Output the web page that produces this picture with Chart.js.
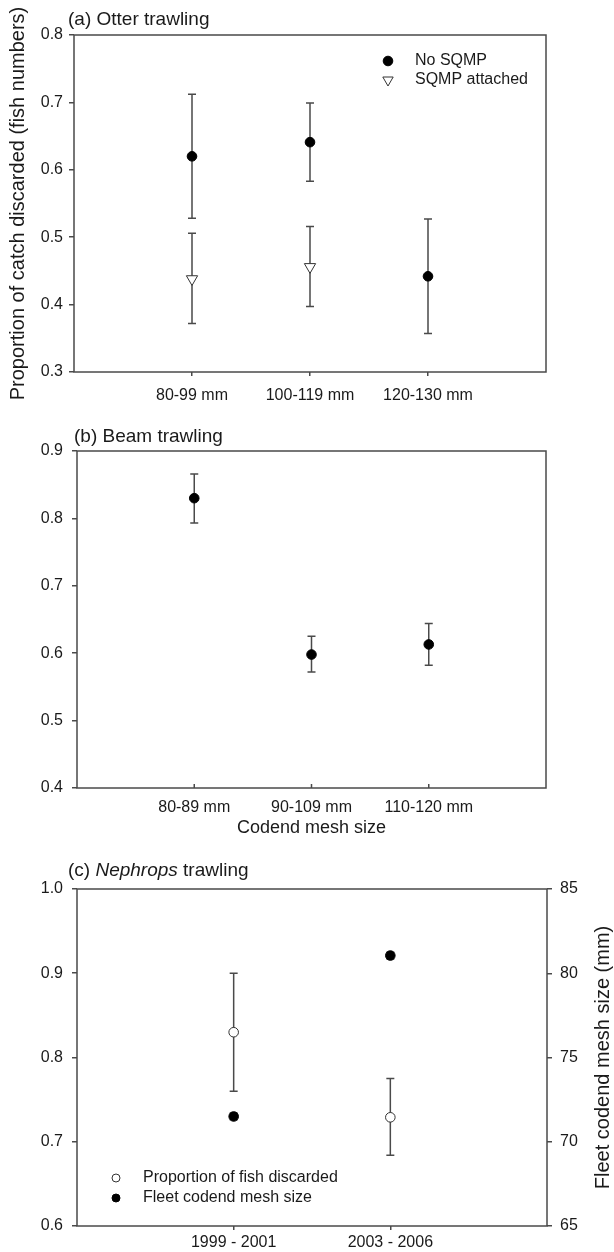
<!DOCTYPE html>
<html>
<head>
<meta charset="utf-8">
<script src="https://cdn.jsdelivr.net/npm/chart.js@4.4.0/dist/chart.umd.min.js"></script>
<style>
  html, body { margin: 0; padding: 0; background: #fff; }
  .panel { position: absolute; left: 0; width: 614px; }
  canvas { display: block; }
</style>
</head>
<body>
<div class="panel" style="top:0"><canvas id="otterChart" width="614" height="412"></canvas></div>
<div class="panel" style="top:420px"><canvas id="beamChart" width="614" height="420"></canvas></div>
<div class="panel" style="top:840px"><canvas id="nephropsChart" width="614" height="412"></canvas></div>
<script>
// (a) otter trawling
const otterLabels   = ["80-99 mm", "100-119 mm", "120-130 mm"];
const otterNoSqmp   = [0.620, 0.641, 0.442];
const otterNoSqmpLo = [0.528, 0.583, 0.357];
const otterNoSqmpHi = [0.712, 0.699, 0.527];
const otterSqmp     = [0.438, 0.456];
const otterSqmpLo   = [0.372, 0.397];
const otterSqmpHi   = [0.506, 0.516];

// (b) beam trawling
const beamLabels = ["80-89 mm", "90-109 mm", "110-120 mm"];
const beamMean   = [0.830, 0.598, 0.613];
const beamLo     = [0.793, 0.572, 0.582];
const beamHi     = [0.866, 0.625, 0.644];

// (c) Nephrops trawling
const nephropsLabels = ["1999 - 2001", "2003 - 2006"];
const discardMean = [0.830, 0.729];
const discardLo   = [0.760, 0.684];
const discardHi   = [0.900, 0.775];
const meshMean    = [71.5, 81.05];
const meshLo      = [71.3, 80.85];
const meshHi      = [71.7, 81.25];

const FONT = '"Liberation Sans", Arial, Helvetica, sans-serif';
const AXIS = "#4a4a4a";
const INK  = "#1a1a1a";

Chart.defaults.font.family = FONT;
Chart.defaults.color = INK;
Chart.defaults.animation = false;
Chart.defaults.plugins.legend.display = false;
Chart.defaults.plugins.tooltip.enabled = false;

const points = vals => vals.map((v, i) => ({ x: i + 1, y: v }));

const filledDot = { pointStyle: "circle", pointRadius: 4.8, pointBackgroundColor: "#000", pointBorderColor: "#000", pointBorderWidth: 1 };
const openDot   = { pointStyle: "circle", pointRadius: 4.8, pointBackgroundColor: "#fff", pointBorderColor: "#333", pointBorderWidth: 1 };
const openTri   = { pointStyle: "triangle", pointRotation: 180, pointRadius: 6.5, pointBackgroundColor: "#fff", pointBorderColor: "#333", pointBorderWidth: 1 };

// ───── plugins ─────
const errorBars = {
  id: "errorBars",
  beforeDatasetsDraw(chart) {
    const ctx = chart.ctx;
    ctx.save();
    ctx.strokeStyle = AXIS;
    ctx.lineWidth = 1.5;
    chart.data.datasets.forEach(ds => {
      if (!ds.errLo) return;
      const ys = chart.scales[ds.yAxisID || "y"], xs = chart.scales.x;
      ds.data.forEach((p, i) => {
        const x = xs.getPixelForValue(p.x);
        const lo = ys.getPixelForValue(ds.errLo[i]);
        const hi = ys.getPixelForValue(ds.errHi[i]);
        ctx.beginPath();
        ctx.moveTo(x, lo); ctx.lineTo(x, hi);
        ctx.moveTo(x - 4, lo); ctx.lineTo(x + 4, lo);
        ctx.moveTo(x - 4, hi); ctx.lineTo(x + 4, hi);
        ctx.stroke();
      });
    });
    ctx.restore();
  }
};

const panelDecor = {
  id: "panelDecor",
  afterDraw(chart, args, opts) {
    const ctx = chart.ctx, a = chart.chartArea;
    ctx.save();
    // box
    ctx.strokeStyle = AXIS;
    ctx.lineWidth = 1.5;
    ctx.strokeRect(a.left, a.top, a.right - a.left, a.bottom - a.top);

    // ticks pointing into the plot
    if (opts.innerTicks) {
      const xs = chart.scales.x;
      ctx.beginPath();
      xs.ticks.forEach(t => {
        const px = xs.getPixelForValue(t.value);
        ctx.moveTo(px, a.bottom); ctx.lineTo(px, a.bottom - 4);
      });
      ctx.stroke();
    }

    // panel title, in parts so a word can be italic
    ctx.fillStyle = INK;
    ctx.textBaseline = "middle";
    ctx.textAlign = "left";
    let tx = opts.titleX;
    (opts.title || []).forEach(part => {
      ctx.font = `${part.italic ? "italic " : ""}19px ${FONT}`;
      ctx.fillText(part.text, tx, opts.titleY);
      tx += ctx.measureText(part.text).width;
    });

    // legend
    (opts.legend || []).forEach(item => {
      const ds = chart.data.datasets[item.index];
      ctx.fillStyle = ds.pointBackgroundColor;
      ctx.strokeStyle = ds.pointBorderColor;
      ctx.lineWidth = ds.pointBorderWidth;
      Chart.helpers.drawPoint(ctx, {
        pointStyle: ds.pointStyle, rotation: ds.pointRotation || 0,
        radius: item.radius || ds.pointRadius, borderWidth: ds.pointBorderWidth
      }, item.x, item.y);
      ctx.fillStyle = INK;
      ctx.font = `16px ${FONT}`;
      ctx.fillText(ds.label, item.textX, item.y);
    });

    // right axis title reads bottom to top
    if (opts.rightTitle) {
      ctx.translate(opts.rightTitleX, (a.top + a.bottom) / 2);
      ctx.rotate(-Math.PI / 2);
      ctx.textAlign = "center";
      ctx.font = `20px ${FONT}`;
      ctx.fillText(opts.rightTitle, 0, 0);
    }
    ctx.restore();
  }
};

function xAxis(labels, max, height, opts) {
  return {
    type: "linear", min: 0, max,
    afterBuildTicks: s => { s.ticks = labels.map((_, i) => ({ value: i + 1 })); },
    afterFit: s => { s.height = height; },
    ticks: { callback: v => labels[v - 1], font: { size: 16 }, padding: opts.padding, maxRotation: 0, autoSkip: false },
    grid: { drawOnChartArea: false, drawTicks: opts.drawTicks, tickLength: 4, color: AXIS, lineWidth: 1.5 },
    border: { display: false },
    title: opts.title || { display: false }
  };
}

function yAxis(min, max, step, width, padding, extra) {
  return Object.assign({
    min, max,
    afterFit: s => { s.width = width; },
    ticks: { stepSize: step, callback: v => v.toFixed(1), font: { size: 16 }, padding },
    grid: { drawOnChartArea: false, tickLength: 5, color: AXIS, lineWidth: 1.5 },
    border: { display: false }
  }, extra || {});
}

// ───── (a) Otter trawling ─────
new Chart(document.getElementById("otterChart"), {
  type: "scatter",
  data: {
    datasets: [
      Object.assign({ label: "No SQMP", data: points(otterNoSqmp), errLo: otterNoSqmpLo, errHi: otterNoSqmpHi }, filledDot),
      Object.assign({ label: "SQMP attached", data: points(otterSqmp), errLo: otterSqmpLo, errHi: otterSqmpHi }, openTri)
    ]
  },
  options: {
    responsive: false,
    layout: { padding: { left: 0, right: 68, top: 35, bottom: 0 } },
    scales: {
      x: xAxis(otterLabels, 4, 40, { padding: 10, drawTicks: true }),
      y: yAxis(0.3, 0.8, 0.1, 74, 6, {
        title: { display: true, text: "Proportion of catch discarded (fish numbers)", font: { size: 20 }, padding: { top: 6, bottom: 0 } }
      })
    },
    plugins: {
      panelDecor: {
        title: [{ text: "(a) Otter trawling" }], titleX: 68, titleY: 20,
        legend: [
          { index: 0, x: 388, y: 61, textX: 415 },
          { index: 1, x: 388, y: 80, textX: 415, radius: 6 }
        ]
      }
    }
  },
  plugins: [errorBars, panelDecor]
});

// ───── (b) Beam trawling ─────
new Chart(document.getElementById("beamChart"), {
  type: "scatter",
  data: {
    datasets: [
      Object.assign({ label: "Beam", data: points(beamMean), errLo: beamLo, errHi: beamHi }, filledDot)
    ]
  },
  options: {
    responsive: false,
    layout: { padding: { left: 0, right: 68, top: 31, bottom: 0 } },
    scales: {
      x: xAxis(beamLabels, 4, 52, {
        padding: 10, drawTicks: false,
        title: { display: true, text: "Codend mesh size", font: { size: 18 }, padding: { top: 0, bottom: 1 } }
      }),
      y: yAxis(0.4, 0.9, 0.1, 77, 9)
    },
    plugins: {
      panelDecor: { title: [{ text: "(b) Beam trawling" }], titleX: 74, titleY: 17, innerTicks: true }
    }
  },
  plugins: [errorBars, panelDecor]
});

// ───── (c) Nephrops trawling ─────
new Chart(document.getElementById("nephropsChart"), {
  type: "scatter",
  data: {
    datasets: [
      Object.assign({ label: "Proportion of fish discarded", data: points(discardMean), errLo: discardLo, errHi: discardHi }, openDot),
      Object.assign({ label: "Fleet codend mesh size", data: points(meshMean), errLo: meshLo, errHi: meshHi, yAxisID: "y2" }, filledDot)
    ]
  },
  options: {
    responsive: false,
    layout: { padding: { left: 0, right: 0, top: 49, bottom: 0 } },
    scales: {
      x: xAxis(nephropsLabels, 3, 26, { padding: 3, drawTicks: true }),
      y: yAxis(0.6, 1.0, 0.1, 77, 9),
      y2: {
        position: "right", min: 65, max: 85,
        afterFit: s => { s.width = 67; },
        ticks: { stepSize: 5, font: { size: 16 }, padding: 8 },
        grid: { drawOnChartArea: false, tickLength: 5, color: AXIS, lineWidth: 1.5 },
        border: { display: false }
      }
    },
    plugins: {
      panelDecor: {
        title: [{ text: "(c) " }, { text: "Nephrops", italic: true }, { text: " trawling" }], titleX: 68, titleY: 31,
        legend: [
          { index: 0, x: 116, y: 338, textX: 143, radius: 4 },
          { index: 1, x: 116, y: 358, textX: 143, radius: 4 }
        ],
        rightTitle: "Fleet codend mesh size (mm)", rightTitleX: 603
      }
    }
  },
  plugins: [errorBars, panelDecor]
});
</script>
</body>
</html>
